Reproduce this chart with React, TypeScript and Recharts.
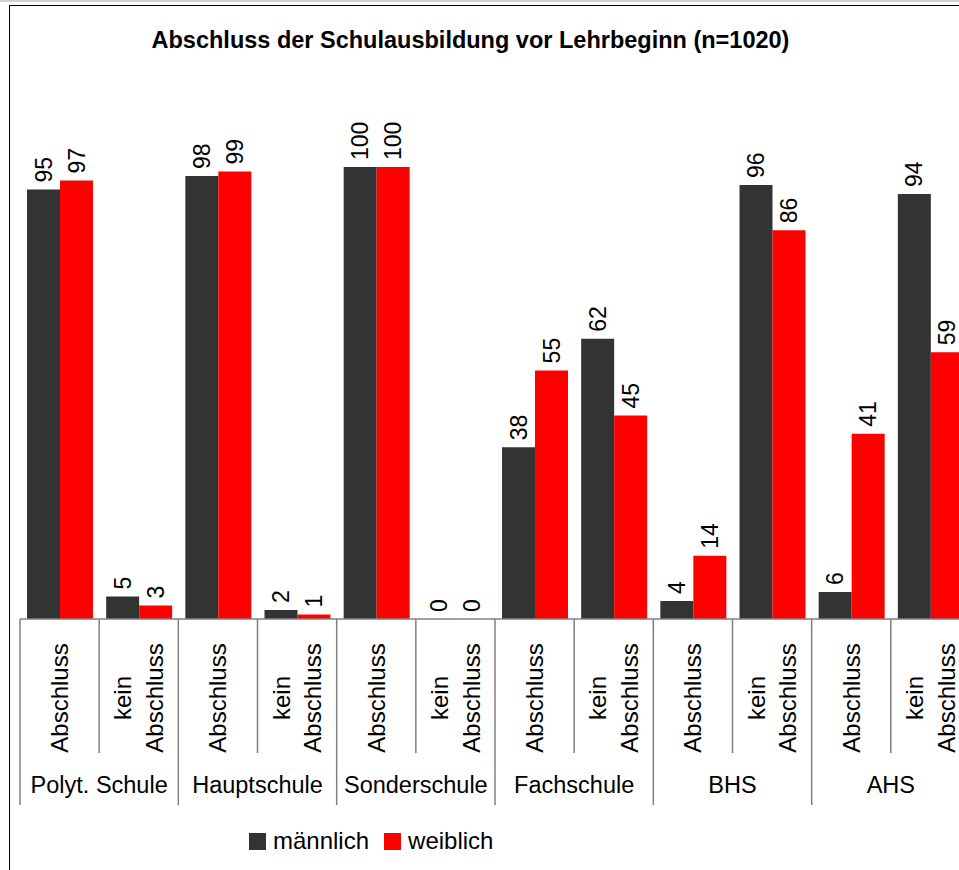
import React from 'react'
import { BarChart, Bar, XAxis, YAxis, Legend, LabelList } from 'recharts'

const schools = ['Polyt. Schule', 'Hauptschule', 'Sonderschule', 'Fachschule', 'BHS', 'AHS']
const statuses = ['Abschluss', 'kein Abschluss']
const maleValues = [95, 5, 98, 2, 100, 0, 38, 62, 4, 96, 6, 94]
const femaleValues = [97, 3, 99, 1, 100, 0, 55, 45, 14, 86, 41, 59]

const data = schools.flatMap((school, i) =>
  statuses.map((status, j) => ({
    key: `${school}|${status}`,
    school,
    status,
    maennlich: maleValues[i * 2 + j],
    weiblich: femaleValues[i * 2 + j],
  }))
)

const FONT = '"Liberation Sans", Arial, sans-serif'
const CHART_W = 1000
const CHART_H = 870
const MARGIN = { top: 167, right: 30, left: 20, bottom: 0 }
const PLOT_W = CHART_W - MARGIN.left - MARGIN.right
const BAND = PLOT_W / data.length
const GRID = '#808080'

const CategoryTick = (props: any) => {
  const { x, y, index } = props
  const row = data[index]
  if (!row) return null
  const left = x - BAND / 2
  const isFirst = row.status === statuses[0]
  const lines = row.status.split(' ')
  const lineGap = 31.8
  return (
    <g>
      <line x1={left} y1={y} x2={left} y2={y + (isFirst ? 186 : 134)} stroke={GRID} strokeWidth={1.5} />
      {index === data.length - 1 && (
        <line x1={left + BAND} y1={y} x2={left + BAND} y2={y + 186} stroke={GRID} strokeWidth={1.5} />
      )}
      <text
        transform={`translate(${x}, ${y + 79}) rotate(-90)`}
        textAnchor="middle"
        fontFamily={FONT}
        fontSize={24}
        fill="#000"
      >
        {lines.map((ln: string, k: number) => (
          <tspan
            key={k}
            x={0}
            y={(k - (lines.length - 1) / 2) * lineGap}
            dominantBaseline="central"
          >
            {ln}
          </tspan>
        ))}
      </text>
      {!isFirst && (
        <text x={left} y={y + 174} textAnchor="middle" fontFamily={FONT} fontSize={23.5} fill="#000">
          {row.school}
        </text>
      )}
    </g>
  )
}

const ValueLabel = (props: any) => {
  const { x, y, width, value } = props
  return (
    <text
      transform={`translate(${x + width / 2}, ${y - 7}) rotate(-90)`}
      textAnchor="start"
      dominantBaseline="central"
      fontFamily={FONT}
      fontSize={23}
      fill="#000"
    >
      {String(value)}
    </text>
  )
}

const LegendContent = (props: any) => {
  const { payload } = props
  return (
    <div style={{ display: 'flex', alignItems: 'center', fontFamily: FONT, fontSize: 24 }}>
      {(payload || []).map((entry: any, i: number) => (
        <div key={i} style={{ display: 'flex', alignItems: 'center', marginRight: 15 }}>
          <span style={{ width: 17, height: 17, background: entry.color, display: 'inline-block', marginRight: 7 }} />
          <span style={{ lineHeight: '24px' }}>{entry.value}</span>
        </div>
      ))}
    </div>
  )
}

const App = () => {
  return (
    <div
      style={{
        position: 'absolute',
        left: 0,
        top: 0,
        width: 959,
        height: 870,
        overflow: 'hidden',
        background: '#fff',
        fontFamily: FONT,
      }}
    >
      <div style={{ position: 'absolute', left: 0, top: 0, width: 959, height: 2, background: '#d0d0d0' }} />
      <div
        style={{
          position: 'absolute',
          left: 9,
          top: 5,
          width: 1200,
          height: 1200,
          borderLeft: '1px solid #000',
          borderTop: '1px solid #000',
        }}
      />
      <div
        style={{
          position: 'absolute',
          left: 0,
          top: 27,
          width: 941,
          textAlign: 'center',
          fontWeight: 'bold',
          fontSize: 23.5,
          lineHeight: '27px',
          color: '#000',
        }}
      >
        Abschluss der Schulausbildung vor Lehrbeginn (n=1020)
      </div>
      <div style={{ position: 'absolute', left: 0, top: 0 }}>
        <BarChart width={CHART_W} height={CHART_H} data={data} margin={MARGIN} barCategoryGap={7} barGap={0}>
          <XAxis
            dataKey="key"
            interval={0}
            height={CHART_H - 619}
            tickLine={false}
            tickSize={0}
            tickMargin={0}
            axisLine={{ stroke: GRID, strokeWidth: 1.5 }}
            tick={<CategoryTick />}
          />
          <YAxis hide domain={[0, 100]} />
          <Legend
            verticalAlign="middle"
            layout="horizontal"
            content={<LegendContent />}
            wrapperStyle={{ left: 249, top: 829, width: 300, height: 24 }}
          />
          <Bar dataKey="maennlich" name="männlich" fill="#333333" minPointSize={0.01} isAnimationActive={false}>
            <LabelList dataKey="maennlich" content={<ValueLabel />} />
          </Bar>
          <Bar dataKey="weiblich" name="weiblich" fill="#FF0000" minPointSize={0.01} isAnimationActive={false}>
            <LabelList dataKey="weiblich" content={<ValueLabel />} />
          </Bar>
        </BarChart>
      </div>
    </div>
  )
}

export default App
